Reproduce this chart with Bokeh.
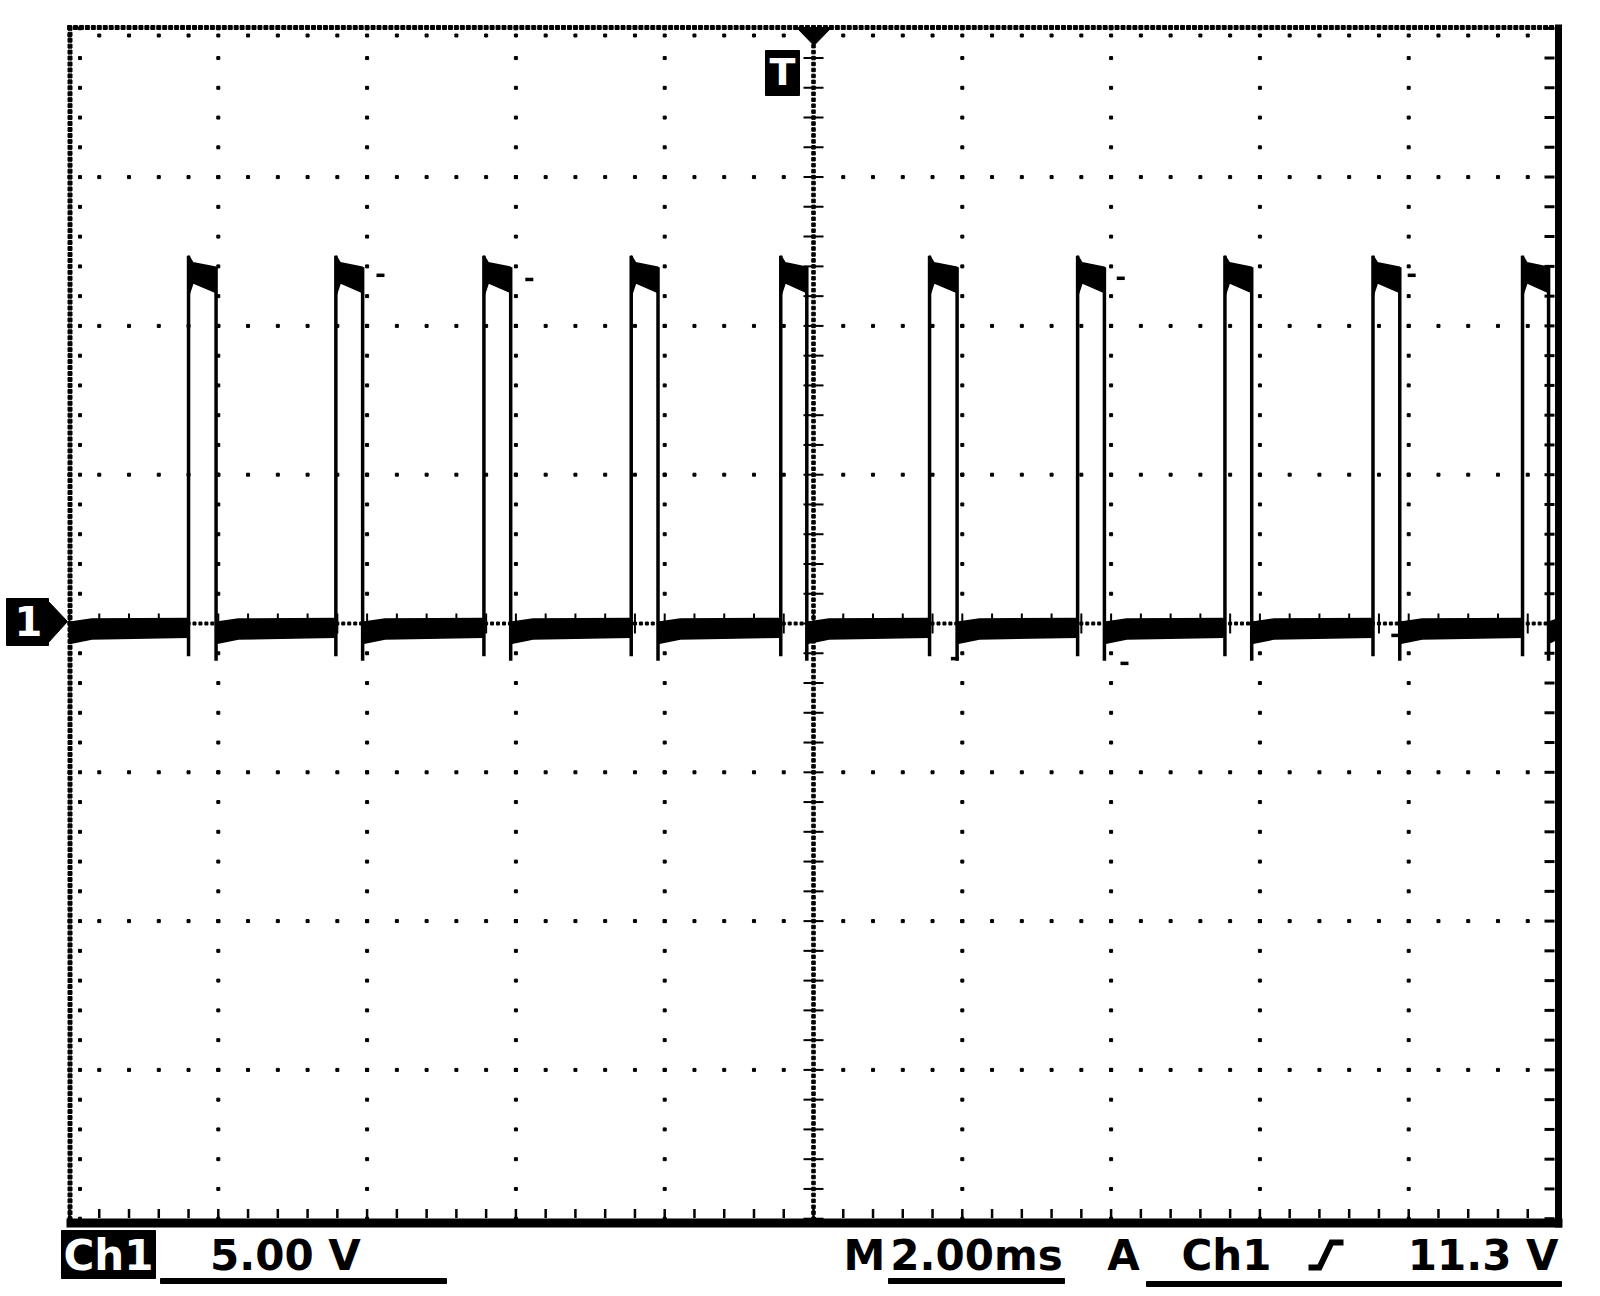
import numpy as np
from bokeh.plotting import figure
from bokeh.models import Range1d
from bokeh.core.properties import value
from bokeh.embed import file_html
from bokeh.resources import INLINE

# ---------------- data read from the scope screen ----------------
# horizontal: time in ms (trigger point = 0), 2.00 ms/div, 10 div
# vertical: channel 1 in volts (ground marker = 0), 5.00 V/div, 8 div
rise_ms = [-8.40, -6.42, -4.43, -2.45, -0.44, 1.56, 3.55, 5.53, 7.52, 9.53]
fall_ms = [-8.03, -6.06, -4.07, -2.09, -0.09, 1.93, 3.91, 5.89, 7.88, 9.88]
high_env_dt = [0.00, 0.06]          # ms after the rising edge
high_top_v = [12.36, 12.12, 11.97]  # at rise, after overshoot, at fall
high_bot_v = [11.00, 11.45, 11.12]
low_env_dt = [0.00, 0.30]           # ms after the falling edge
low_top_v = [0.04, 0.15, 0.17]      # after fall, settled, before next rise
low_bot_v = [-0.67, -0.52, -0.46]
rise_foot_v = -1.10
fall_foot_v = -1.25
glitch_ms = [-5.82, -3.82, 4.13, 8.04, 1.90, 4.18, 7.82]
glitch_v = [11.70, 11.56, 11.60, 11.70, -1.18, -1.34, -0.40]

ch_label = "Ch1"
volts_label = "5.00 V"
time_prefix = "M"
time_label = "2.00ms"
trig_mode = "A"
trig_src = "Ch1"
trig_level = "11.3 V"
trig_marker = "T"
gnd_marker = "1"

# ---------------- screen geometry (pixels on the page) ----------------
W, H, MARGIN = 1600, 1296, 0
CX_PX, CY_PX, DIV_PX = 813.0, 623.0, 148.8
MS_PER_DIV, V_PER_DIV = 2.0, 5.0
T_MIN, T_MAX = -10.0, 10.0
V_MIN, V_MAX = -20.0, 20.0


def X(px):
    return (px - CX_PX) / DIV_PX * MS_PER_DIV


def Y(py):
    return (CY_PX - py) / DIV_PX * V_PER_DIV


p = figure(width=W, height=H,
           x_range=Range1d(X(MARGIN), X(MARGIN + W)),
           y_range=Range1d(Y(MARGIN + H), Y(MARGIN)),
           x_axis_type=None, y_axis_type=None,
           output_backend="svg", toolbar_location=None, min_border=0)
p.outline_line_color = None
p.background_fill_color = "white"
p.border_fill_color = "white"
p.xgrid.visible = False
p.ygrid.visible = False

BLACK = "black"

# ---------------- graticule ----------------
minor_t = np.linspace(T_MIN, T_MAX, 51)      # 0.2 div steps
minor_v = np.linspace(V_MIN, V_MAX, 41)
fine_t = np.linspace(T_MIN, T_MAX, 251)      # 0.04 div steps
fine_v = np.linspace(V_MIN, V_MAX, 201)

# dotted major lines
gx, gy = [], []
for t in [-8, -6, -4, -2, 2, 4, 6, 8]:
    gx += [t] * len(minor_v)
    gy += list(minor_v)
for v in [-15, -10, -5, 5, 10, 15]:
    gx += list(minor_t)
    gy += [v] * len(minor_t)
p.scatter(gx, gy, marker="square", size=3, color=BLACK)

# centre cross with fine ticks
p.scatter([0.0] * len(fine_v), fine_v, marker="square", size=3.5, color=BLACK)
p.scatter(fine_t, [0.0] * len(fine_t), marker="square", size=3, color=BLACK)
p.scatter([0.0] * len(minor_v), minor_v, marker="dash", size=20, line_width=2, line_color=BLACK)
p.scatter(minor_t, [0.0] * len(minor_t), marker="dash", size=20, angle=np.pi / 2,
          line_width=2, line_color=BLACK)

# top and left edges: fine ticks + inner dots
p.scatter(fine_t, [Y(27)] * len(fine_t), marker="square", size=4, color=BLACK)
p.scatter(minor_t, [Y(35)] * len(minor_t), marker="square", size=3, color=BLACK)
p.scatter([X(69.5)] * len(fine_v), fine_v, marker="square", size=4, color=BLACK)
p.scatter([X(79.5)] * len(minor_v), minor_v, marker="square", size=3, color=BLACK)

# right and bottom edges: solid bars + inward ticks
p.segment(x0=[X(1558)], y0=[Y(24)], x1=[X(1558)], y1=[Y(1227)], line_width=7, line_color=BLACK)
p.segment(x0=[X(66)], y0=[Y(1222.5)], x1=[X(1562)], y1=[Y(1222.5)], line_width=9, line_color=BLACK)
p.scatter([X(1549)] * len(minor_v), minor_v, marker="dash", size=10, line_width=3, line_color=BLACK)
p.scatter(minor_t, [Y(1213)] * len(minor_t), marker="dash", size=9, angle=np.pi / 2,
          line_width=2.5, line_color=BLACK)

# ---------------- trace ----------------
hx, hy = [], []
for r, f in zip(rise_ms, fall_ms):
    t1 = r + high_env_dt[1]
    hx.append([r, t1, f, f, t1, r])
    hy.append([high_top_v[0], high_top_v[1], high_top_v[2],
               high_bot_v[2], high_bot_v[1], high_bot_v[0]])
p.patches(hx, hy, fill_color=BLACK, line_color=BLACK, line_width=1.5)

lx, ly = [], []
for s, e in zip([T_MIN] + fall_ms, rise_ms + [T_MAX]):
    m = min(s + low_env_dt[1], e)
    lx.append([s, m, e, e, m, s])
    ly.append([low_top_v[0], low_top_v[1], low_top_v[2],
               low_bot_v[2], low_bot_v[1], low_bot_v[0]])
p.patches(lx, ly, fill_color=BLACK, line_color=BLACK, line_width=1.5)

p.segment(x0=rise_ms, y0=[rise_foot_v] * len(rise_ms), x1=rise_ms,
          y1=[high_top_v[0]] * len(rise_ms), line_width=3.5, line_color=BLACK)
p.segment(x0=fall_ms, y0=[high_top_v[2]] * len(fall_ms), x1=fall_ms,
          y1=[fall_foot_v] * len(fall_ms), line_width=3.5, line_color=BLACK)
p.scatter(glitch_ms, glitch_v, marker="dash", size=8, line_width=3.5, line_color=BLACK)

# ---------------- markers ----------------
# trigger position arrow and "T" tag
p.patch([X(796), X(831), X(813.5)], [Y(27), Y(27), Y(45)], fill_color=BLACK, line_color=BLACK)
p.quad(left=[X(765)], right=[X(799)], top=[Y(50)], bottom=[Y(95)], fill_color=BLACK, line_color=BLACK)
p.text(x=[X(782)], y=[Y(71)], text=[trig_marker], text_color="white",
       text_font=value("DejaVu Sans"), text_font_style="bold", text_font_size="38px",
       text_align="center", text_baseline="middle")

# ground marker "1"
p.quad(left=[X(6)], right=[X(48)], top=[Y(598)], bottom=[Y(645)], fill_color=BLACK, line_color=BLACK)
p.patch([X(47), X(67), X(47)], [Y(600), Y(621), Y(643)], fill_color=BLACK, line_color=BLACK)
p.text(x=[X(28)], y=[Y(620)], text=[gnd_marker], text_color="white",
       text_font=value("DejaVu Sans"), text_font_style="bold", text_font_size="40px",
       text_align="center", text_baseline="middle")

# ---------------- status line ----------------
MID = Y(1255)
FONT = dict(text_font=value("DejaVu Sans"), text_font_style="bold", text_font_size="42px",
            text_baseline="middle")
p.quad(left=[X(61)], right=[X(155)], top=[Y(1230)], bottom=[Y(1278)], fill_color=BLACK, line_color=BLACK)
p.text(x=[X(108)], y=[MID], text=[ch_label], text_color="white", text_align="center", **FONT)
p.text(x=[X(285)], y=[MID], text=[volts_label], text_color=BLACK, text_align="center", **FONT)
p.text(x=[X(864)], y=[MID], text=[time_prefix], text_color=BLACK, text_align="center", **FONT)
p.text(x=[X(976)], y=[MID], text=[time_label], text_color=BLACK, text_align="center", **FONT)
p.text(x=[X(1123)], y=[MID], text=[trig_mode], text_color=BLACK, text_align="center", **FONT)
p.text(x=[X(1226)], y=[MID], text=[trig_src], text_color=BLACK, text_align="center", **FONT)
p.text(x=[X(1558)], y=[MID], text=[trig_level], text_color=BLACK, text_align="right", **FONT)

# rising-slope symbol
p.line([X(1308), X(1319), X(1331), X(1343)], [Y(1267), Y(1267), Y(1242), Y(1242)],
       line_width=6, line_color=BLACK, line_join="miter")

# underlines
p.quad(left=[X(160), X(888), X(1146)], right=[X(446), X(1064), X(1561)],
       top=[Y(1278), Y(1278), Y(1281)], bottom=[Y(1283), Y(1283), Y(1286)],
       fill_color=BLACK, line_color=BLACK)

open("out.html", "w").write(file_html(p, INLINE))
